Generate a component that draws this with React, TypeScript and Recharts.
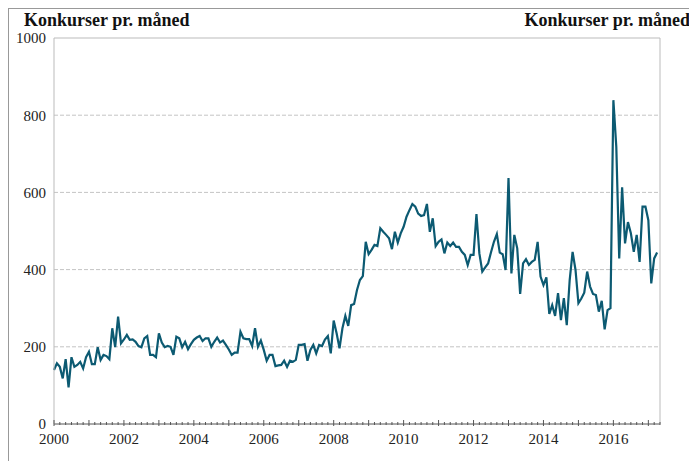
import { CartesianGrid, Line, LineChart, ReferenceLine, XAxis, YAxis } from 'recharts'

// monthly bankruptcies, Jan 2000 onwards
const values2000to2005 = [
  140, 157, 148, 118, 168, 95, 173, 148, 153, 161, 144, 173,
  187, 155, 155, 199, 166, 179, 176, 168, 248, 199, 278, 209,
  219, 231, 218, 219, 213, 202, 199, 222, 228, 179, 179, 173,
  235, 211, 199, 202, 200, 179, 226, 222, 199, 213, 194, 207,
  218, 224, 228, 215, 222, 222, 200, 213, 224, 211, 216, 205,
  193, 179, 185, 185, 239, 222, 220, 220, 202, 248, 200, 216,
]
const values2006to2011 = [
  192, 164, 179, 179, 150, 152, 153, 164, 148, 164, 161, 166,
  205, 205, 207, 164, 192, 205, 183, 205, 202, 219, 228, 183,
  268, 235, 196, 248, 280, 254, 308, 311, 347, 373, 383, 472,
  440, 451, 464, 461, 507, 498, 490, 481, 453, 498, 470, 494,
  511, 537, 554, 570, 563, 545, 539, 541, 570, 498, 533, 461,
  472, 478, 442, 470, 461, 470, 459, 459, 446, 438, 412, 438,
]
const values2012to2017 = [
  438, 544, 442, 395, 406, 416, 445, 472, 492, 444, 440, 399,
  637, 390, 490, 455, 337, 416, 427, 412, 420, 425, 472, 382,
  360, 380, 285, 308, 280, 339, 269, 326, 256, 373, 446, 399,
  313, 325, 340, 395, 356, 337, 334, 291, 319, 245, 295, 300,
  839, 718, 429, 613, 468, 523, 494, 446, 490, 420, 563, 563,
  528, 364, 429, 444,
]

const yearLabels = [2000, 2002, 2004, 2006, 2008, 2010, 2012, 2014, 2016]
const yTicks = [0, 200, 400, 600, 800, 1000]
const gridValues = [200, 400, 600, 800]
const title = 'Konkurser pr. måned'

const values = [...values2000to2005, ...values2006to2011, ...values2012to2017]
const data = values.map((v, i) => ({ m: i, value: v }))
const xTicks = Array.from({ length: 105 }, (_, i) => i * 2)

const FONT = '"Liberation Serif", serif'

function MonthTick(props: any) {
  const { x, y, payload } = props
  const m = payload.value as number
  const isYear = m % 12 === 0
  const year = 2000 + m / 12
  return (
    <g>
      <line
        x1={x}
        x2={x}
        y1={isYear ? y - 4 : y - 2}
        y2={isYear ? y + 2 : y + 1}
        stroke="#555"
        strokeWidth={1}
      />
      {isYear && yearLabels.includes(year) && (
        <text x={x} y={y + 20} textAnchor="middle" fontSize={15} fontFamily={FONT} fill="#222">
          {year}
        </text>
      )}
    </g>
  )
}

const titleStyle = {
  position: 'absolute' as const,
  top: 2,
  fontFamily: FONT,
  fontWeight: 'bold' as const,
  fontSize: 18,
  lineHeight: '18px',
  color: '#111',
  whiteSpace: 'nowrap' as const,
}

export default function App() {
  return (
    <div
      style={{
        position: 'relative',
        width: 680,
        height: 452,
        borderTop: '1px solid #999',
        borderLeft: '1px solid #999',
      }}
    >
      <span style={{ ...titleStyle, left: 15 }}>{title}</span>
      <span style={{ ...titleStyle, right: -1 }}>{title}</span>
      <LineChart
        width={688}
        height={450}
        data={data}
        margin={{ top: 29, right: 7, left: 5, bottom: 5 }}
      >
        <CartesianGrid
          vertical={false}
          horizontalValues={gridValues}
          stroke="#c4c4c4"
          strokeDasharray="4 2"
          yAxisId="left"
        />
        <ReferenceLine y={1000} yAxisId="left" stroke="#bbb" />
        <XAxis
          dataKey="m"
          type="number"
          domain={[0, 208]}
          ticks={xTicks}
          interval={0}
          height={30}
          axisLine={{ stroke: '#555' }}
          tickLine={false}
          tickSize={0}
          tickMargin={0}
          tick={<MonthTick />}
        />
        <YAxis
          yAxisId="left"
          width={40}
          domain={[0, 1000]}
          ticks={yTicks}
          interval={0}
          axisLine={{ stroke: '#bbb' }}
          tickLine={false}
          tickSize={0}
          tickMargin={8}
          tick={{ fontSize: 15, fontFamily: FONT, fill: '#222' }}
        />
        <YAxis
          yAxisId="right"
          orientation="right"
          width={30}
          domain={[0, 1000]}
          ticks={yTicks}
          interval={0}
          axisLine={{ stroke: '#bbb' }}
          tickLine={false}
          tickSize={0}
          tickMargin={7}
          tick={{ fontSize: 15, fontFamily: FONT, fill: '#222', textAnchor: 'start' }}
        />
        <Line
          yAxisId="left"
          type="linear"
          dataKey="value"
          stroke="#0c5a72"
          strokeWidth={2.2}
          dot={false}
          isAnimationActive={false}
        />
      </LineChart>
    </div>
  )
}
